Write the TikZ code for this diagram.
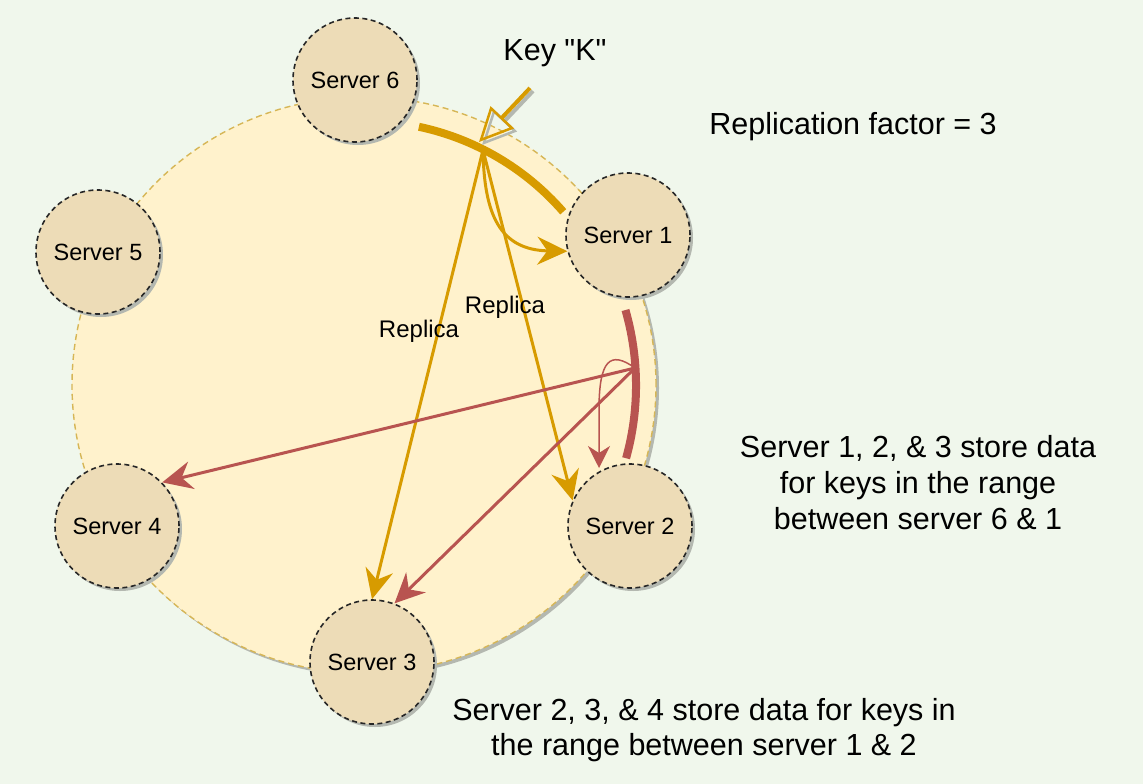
\documentclass[tikz,border=0pt]{standalone}
\usepackage{fontspec}
\setmainfont{Liberation Sans}
\newfontfamily\qfont{Liberation Sans}[Ligatures=ResetAll]
\usetikzlibrary{arrows.meta,shadows,shapes.geometric}
\definecolor{bgc}{HTML}{F0F7EC}
\definecolor{ringfill}{HTML}{FFF2CC}
\definecolor{ringline}{HTML}{D6B656}
\definecolor{srvfill}{HTML}{EDDCB7}
\definecolor{orng}{HTML}{D79B00}
\definecolor{rred}{HTML}{B85450}
\definecolor{shadowc}{HTML}{B4B8B0}
\begin{document}
\begin{tikzpicture}[x=1pt,y=-1pt,
  myshadow/.style={drop shadow={shadow xshift=3pt,shadow yshift=-3pt,fill=shadowc,opacity=1}},
  server/.style={circle,minimum size=124pt,inner sep=0pt,draw=black!85,line width=1.6pt,
    dash pattern=on 5pt off 3.5pt,fill=srvfill,myshadow,font=\fontsize{23.5}{28}\selectfont},
  ringstyle/.style={ellipse,minimum width=584pt,minimum height=576pt,inner sep=0pt,
    draw=ringline,line width=1.4pt,dash pattern=on 6pt off 4pt,fill=ringfill,myshadow},
  bigtxt/.style={font=\fontsize{30.5}{36}\selectfont,align=center,inner sep=0pt},
  reptxt/.style={font=\fontsize{24}{28}\selectfont,inner sep=0pt},
  oarrow/.style={draw=orng,line width=3pt,-{Stealth[length=30pt,width=28pt,inset=10pt]}},
  rarrow/.style={draw=rred,line width=3pt,-{Stealth[length=30pt,width=28pt,inset=10pt]}},
  rthin/.style={draw=rred,line width=1.5pt,-{Stealth[length=22pt,width=22pt,inset=7pt]}},
  rangeo/.style={draw=orng,line width=8pt},
  ranger/.style={draw=rred,line width=8pt},
  keyarr/.style={draw=orng,line width=4pt,-{Triangle[open,length=34pt,width=32pt,line width=2.5pt]},
    preaction={draw=shadowc,line width=4pt,transform canvas={xshift=3pt,yshift=-3pt}}}
]
\fill[bgc] (0,0) rectangle (1143,784);
\useasboundingbox (0,0) rectangle (1143,784);

% ring
\node[ringstyle] (ring) at (364,385) {};
\coordinate (rc) at (364,385);

% ranges
\draw[rangeo] ([shift={(-78:264)}]rc) arc[start angle=-78,end angle=-41,radius=264];
\draw[ranger] ([shift={(-16:272)}]rc) arc[start angle=-16,end angle=15.5,radius=273];

% servers
\node[server] (s6) at (355,80) {Server 6};
\node[server] (s1) at (628,235) {Server 1};
\node[server] (s5) at (98,252) {Server 5};
\node[server] (s4) at (117,526) {Server 4};
\node[server] (s3) at (372,662) {Server 3};
\node[server] (s2) at (630,526) {Server 2};

% key
\node[bigtxt,anchor=base] (key) at (555,61) {\qfont Key "K"};
\coordinate (kfrom) at (530,88);
\coordinate (ktip) at (479,142);
\coordinate (ks) at (483,150);
\draw[keyarr] (kfrom) -- (ktip);

% orange replicas
\draw[oarrow] (ks) -- (s3.north);
\draw[oarrow] (ks) -- (s2.156);
\draw[oarrow] (ks) .. controls (484,215) and (500,250) .. (s1.195);

% red
\coordinate (rs) at (635,368);
\draw[rarrow] (rs) -- (s4.44);
\draw[rarrow] (rs) -- (s3.69);
\coordinate (rt) at (599,468);
\draw[rthin] (rs) .. controls (610,350) and (599,360) .. (599,410) -- (rt);

% labels
\node[reptxt,anchor=base] (rep1) at (419,337) {Replica};
\node[reptxt,anchor=base] (rep2) at (505,313) {Replica};
\node[bigtxt,anchor=base] (rf) at (853,134) {Replication factor = 3};
\node[bigtxt,anchor=base] (t1a) at (918,457) {Server 1, 2, \& 3 store data};
\node[bigtxt,anchor=base] (t1b) at (918,493) {for keys in the range};
\node[bigtxt,anchor=base] (t1c) at (918,529) {between server 6 \& 1};
\node[bigtxt,anchor=base] (t2a) at (704,720) {Server 2, 3, \& 4 store data for keys in};
\node[bigtxt,anchor=base] (t2b) at (704,755) {the range between server 1 \& 2};
\end{tikzpicture}
\end{document}
